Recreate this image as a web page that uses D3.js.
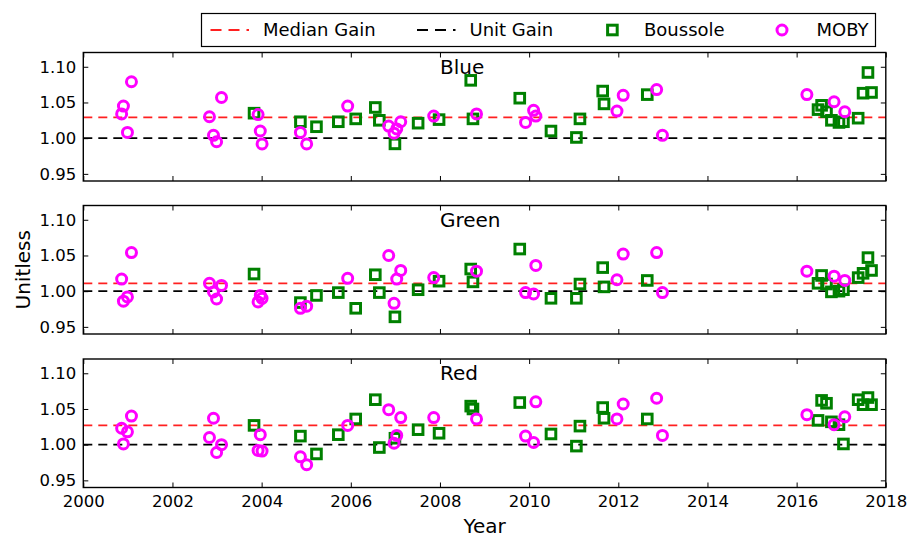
<html>
<head>
<script src="https://cdn.jsdelivr.net/npm/d3@7"></script>
<style>
  body { margin:0; background:#fff; }
  text { font-family:"DejaVu Sans", sans-serif; }
</style>
</head>
<body>
<script>
// bands, one panel each
let bands = ["Blue", "Green", "Red"];
let medianGain = [1.029, 1.011, 1.027];
let unitGain = 1.0;
let xTicks = [2000, 2002, 2004, 2006, 2008, 2010, 2012, 2014, 2016, 2018];
let yTicks = [0.95, 1.00, 1.05, 1.10];

// MOBY match-ups
let mobyYear  = [2000.86, 2000.90, 2000.99, 2001.08, 2002.83, 2002.92, 2002.99, 2003.10, 2003.92, 2003.97,
                 2004.01, 2004.87, 2005.01, 2005.93, 2006.85, 2006.97, 2007.03, 2007.12, 2007.86, 2008.82,
                 2009.92, 2010.10, 2010.15, 2011.97, 2012.11, 2012.86, 2012.99, 2016.23, 2016.84, 2017.08];
let mobyBlue  = [1.034, 1.045, 1.008, 1.079, 1.030, 1.004, 0.995, 1.057, 1.033, 1.010,
                 0.992, 1.008, 0.992, 1.045, 1.017, 1.007, 1.013, 1.023, 1.031, 1.034,
                 1.022, 1.039, 1.031, 1.038, 1.060, 1.068, 1.004, 1.061, 1.051, 1.037];
let mobyGreen = [1.017, 0.986, 0.992, 1.054, 1.011, 0.999, 0.989, 1.008, 0.985, 0.994,
                 0.990, 0.976, 0.979, 1.018, 1.050, 0.983, 1.017, 1.029, 1.019, 1.028,
                 0.998, 0.996, 1.036, 1.016, 1.052, 1.054, 0.998, 1.028, 1.021, 1.015];
let mobyRed   = [1.023, 1.001, 1.018, 1.040, 1.010, 1.037, 0.989, 1.000, 0.992, 1.014,
                 0.991, 0.983, 0.972, 1.027, 1.049, 1.002, 1.013, 1.038, 1.038, 1.036,
                 1.012, 1.003, 1.060, 1.036, 1.057, 1.065, 1.013, 1.042, 1.028, 1.039];

// Boussole match-ups
let boussoleYear  = [2003.83, 2004.87, 2005.23, 2005.72, 2006.11, 2006.55, 2006.64, 2006.99, 2007.51, 2007.98,
                     2008.69, 2008.74, 2009.79, 2010.49, 2011.06, 2011.14, 2011.65, 2011.68, 2012.65, 2016.48,
                     2016.56, 2016.67, 2016.78, 2016.95, 2017.05, 2017.38, 2017.49, 2017.60, 2017.68];
let boussoleBlue  = [1.035, 1.023, 1.016, 1.023, 1.027, 1.043, 1.025, 0.992, 1.021, 1.026,
                     1.081, 1.027, 1.056, 1.010, 1.001, 1.027, 1.066, 1.048, 1.061, 1.040,
                     1.046, 1.037, 1.025, 1.022, 1.023, 1.028, 1.063, 1.092, 1.064];
let boussoleGreen = [1.024, 0.984, 0.994, 0.998, 0.976, 1.023, 0.998, 0.964, 1.002, 1.014,
                     1.031, 1.013, 1.059, 0.990, 0.990, 1.010, 1.033, 1.006, 1.015, 1.011,
                     1.022, 1.010, 0.999, 1.000, 1.002, 1.019, 1.025, 1.047, 1.029];
let boussoleRed   = [1.027, 1.012, 0.987, 1.014, 1.036, 1.063, 0.996, 1.009, 1.021, 1.016,
                     1.054, 1.050, 1.059, 1.015, 0.998, 1.026, 1.052, 1.037, 1.036, 1.034,
                     1.062, 1.058, 1.032, 1.028, 1.001, 1.063, 1.056, 1.066, 1.056];

let mobyVals = [mobyBlue, mobyGreen, mobyRed];
let boussoleVals = [boussoleBlue, boussoleGreen, boussoleRed];

let screen = {width:907, height:539};
let plot = {left:83.3, right:885.8, height:128.5};
let panelTop = [52.5, 205.5, 359];
let green = "#008000", magenta = "#ff00ff";
let sq = 9.6, sw = 3, rad = 5;

let svg = d3.select("body").append("svg")
    .attr("width", screen.width)
    .attr("height", screen.height);

let xScale = d3.scaleLinear().domain([2000, 2018]).range([plot.left, plot.right]);

bands.forEach(function(band, p) {
    let yScale = d3.scaleLinear().domain([0.94, 1.12]).range([plot.height, 0]);
    let g = svg.append("g").attr("transform", "translate(0," + panelTop[p] + ")");

//reference lines
    g.append("line")
        .attr("x1", plot.left).attr("x2", plot.right)
        .attr("y1", yScale(medianGain[p])).attr("y2", yScale(medianGain[p]))
        .attr("stroke", "#ff2020").attr("stroke-width", 1.8).attr("stroke-dasharray", "9,6");
    g.append("line")
        .attr("x1", plot.left).attr("x2", plot.right)
        .attr("y1", yScale(unitGain)).attr("y2", yScale(unitGain))
        .attr("stroke", "#000").attr("stroke-width", 1.8).attr("stroke-dasharray", "9,6");

//markers
    g.selectAll("rect.bou")
        .data(boussoleYear)
        .enter().append("rect")
        .attr("class", "bou")
        .attr("x", function(d) { return xScale(d) - sq / 2; })
        .attr("y", function(d, i) { return yScale(boussoleVals[p][i]) - sq / 2; })
        .attr("width", sq).attr("height", sq)
        .attr("fill", "none").attr("stroke", green).attr("stroke-width", sw);

    g.selectAll("circle.moby")
        .data(mobyYear)
        .enter().append("circle")
        .attr("class", "moby")
        .attr("cx", function(d) { return xScale(d); })
        .attr("cy", function(d, i) { return yScale(mobyVals[p][i]); })
        .attr("r", rad)
        .attr("fill", "none").attr("stroke", magenta).attr("stroke-width", sw);

//axes, ticks inside on all four sides
    let axL = g.append("g").attr("transform", "translate(" + plot.left + ",0)")
        .call(d3.axisLeft(yScale).tickValues(yTicks).tickFormat(d3.format(".2f")).tickSizeInner(-5).tickSizeOuter(0).tickPadding(7));
    let axR = g.append("g").attr("transform", "translate(" + plot.right + ",0)")
        .call(d3.axisRight(yScale).tickValues(yTicks).tickFormat("").tickSizeInner(-5).tickSizeOuter(0));
    let axT = g.append("g")
        .call(d3.axisTop(xScale).tickValues(xTicks).tickFormat("").tickSizeInner(-5).tickSizeOuter(0));
    let axB = g.append("g").attr("transform", "translate(0," + plot.height + ")")
        .call(d3.axisBottom(xScale).tickValues(xTicks).tickFormat(p == 2 ? d3.format("d") : "").tickSizeInner(-5).tickSizeOuter(0).tickPadding(8));
    [axL, axR, axT, axB].forEach(function(a) {
        a.select(".domain").remove();
        a.selectAll("line").attr("stroke", "#000").attr("stroke-width", 1);
        a.selectAll("text").attr("font-size", 16.5).attr("fill", "#000")
            .attr("font-family", "DejaVu Sans, sans-serif");
    });

    g.append("rect")
        .attr("x", plot.left).attr("y", 0)
        .attr("width", plot.right - plot.left).attr("height", plot.height)
        .attr("fill", "none").attr("stroke", "#000").attr("stroke-width", 1.4);

//band label
    g.append("text")
        .attr("x", xScale(2008)).attr("y", yScale(1.09))
        .attr("font-size", 20)
        .text(band);
});

//axis titles
svg.append("text")
    .attr("x", (plot.left + plot.right) / 2).attr("y", 533)
    .attr("text-anchor", "middle").attr("font-size", 20)
    .text("Year");
svg.append("text")
    .attr("transform", "translate(30," + (panelTop[1] + plot.height / 2) + ") rotate(-90)")
    .attr("text-anchor", "middle").attr("font-size", 20)
    .text("Unitless");

//legend
let legend = svg.append("g");
legend.append("rect")
    .attr("x", 201.5).attr("y", 13.5).attr("width", 674).attr("height", 33)
    .attr("fill", "#fff").attr("stroke", "#000").attr("stroke-width", 1.2);
legend.append("line")
    .attr("x1", 210.5).attr("x2", 249).attr("y1", 30).attr("y2", 30)
    .attr("stroke", "#ff2020").attr("stroke-width", 1.8).attr("stroke-dasharray", "11,7");
legend.append("line")
    .attr("x1", 417).attr("x2", 455.5).attr("y1", 30).attr("y2", 30)
    .attr("stroke", "#000").attr("stroke-width", 1.8).attr("stroke-dasharray", "11,7");
legend.append("rect")
    .attr("x", 612.4 - sq / 2).attr("y", 30 - sq / 2).attr("width", sq).attr("height", sq)
    .attr("fill", "none").attr("stroke", green).attr("stroke-width", sw);
legend.append("circle")
    .attr("cx", 782).attr("cy", 30).attr("r", rad)
    .attr("fill", "none").attr("stroke", magenta).attr("stroke-width", sw);
let legendText = ["Median Gain", "Unit Gain", "Boussole", "MOBY"];
let legendX = [263, 469.5, 644, 816.5];
legend.selectAll("text.lg")
    .data(legendText)
    .enter().append("text")
    .attr("class", "lg")
    .attr("x", function(d, i) { return legendX[i]; })
    .attr("y", 36)
    .attr("font-size", 18)
    .text(function(d) { return d; });
</script>
</body>
</html>
